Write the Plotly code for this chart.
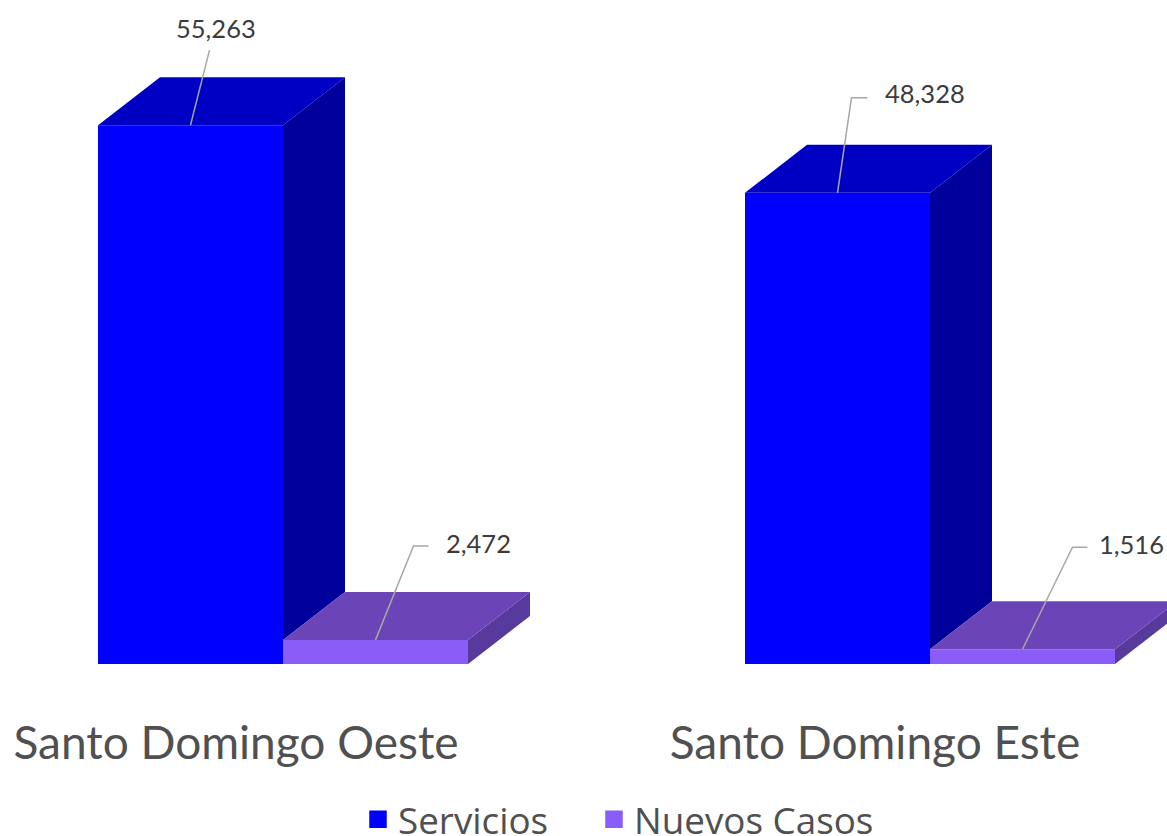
import plotly.graph_objects as go

# --- data ---
categories = ["Santo Domingo Oeste", "Santo Domingo Este"]
series_names = ["Servicios", "Nuevos Casos"]
servicios = [55263, 48328]
nuevos_casos = [2472, 1516]

# --- layout constants (pixels) ---
W, H = 1167, 836
BASE_PX = 664
LEFT_PX = 98
STEP_PX = 647
BAR_PX = 185
DX_PX, DY_PX = 62, 48
PX_PER_VAL = 0.00975

FRONT = ["#0000FF", "#8A5CF8"]
TOP = ["#0000C4", "#6B45B8"]
SIDE = ["#00009A", "#58399E"]

ux = lambda px: px / STEP_PX
uy = lambda px: px / PX_PER_VAL
bw, dx, dy = ux(BAR_PX), ux(DX_PX), uy(DY_PX)

fig = go.Figure()

all_vals = [servicios, nuevos_casos]
for s, vals in enumerate(all_vals):
    fig.add_trace(go.Bar(
        x=list(range(len(vals))), y=vals, name=series_names[s], showlegend=False,
        width=bw, offset=s * bw, marker=dict(color=FRONT[s], line_width=0),
        hoverinfo="skip"))

def poly(xs, ys, color):
    fig.add_trace(go.Scatter(x=xs, y=ys, mode="lines", fill="toself", fillcolor=color,
                             line=dict(width=0, color=color), showlegend=False, hoverinfo="skip"))

for s, vals in enumerate(all_vals):
    for i, v in enumerate(vals):
        x0 = i + s * bw
        x1 = x0 + bw
        # the neighbouring box hides the lower part of a side face
        floor = all_vals[s + 1][i] if s + 1 < len(all_vals) else 0
        poly([x1, x1 + dx, x1 + dx, x1, x1], [floor, floor + dy, v + dy, v, floor], SIDE[s])
        poly([x0, x0 + dx, x1 + dx, x1, x0], [v, v + dy, v + dy, v, v], TOP[s])

# one legend per series so that each entry can sit at its own place
legend_keys = ["legend", "legend2"]
for s, name in enumerate(series_names):
    fig.add_trace(go.Scatter(
        x=[None], y=[None], mode="markers", name=name, legend=legend_keys[s],
        marker=dict(symbol="square", size=16, color=FRONT[s], line=dict(width=1.5, color=FRONT[s]))))

# leader lines and value labels: pixel offsets from the centre of the bar's front-top edge
leaders = {
    (0, 0): dict(elbow=(19, -75), tail=0, label=(25, -97), anchor="center"),
    (1, 0): dict(elbow=(38, -94), tail=15, label=(68, -97), anchor="left"),
    (0, 1): dict(elbow=(14, -95), tail=16, label=(45, -100), anchor="left"),
    (1, 1): dict(elbow=(50, -102), tail=15, label=(74, -105), anchor="left"),
}
annotations = []
for (s, i), c in leaders.items():
    v = all_vals[s][i]
    xc = i + s * bw + bw / 2
    ex = xc + ux(c["elbow"][0])
    ey = v - uy(c["elbow"][1])
    fig.add_trace(go.Scatter(
        x=[xc, ex, ex + ux(c["tail"])], y=[v, ey, ey], mode="lines",
        line=dict(color="#A8A8A0", width=1.5), showlegend=False, hoverinfo="skip"))
    annotations.append(dict(
        x=xc + ux(c["label"][0]), y=v - uy(c["label"][1]), xref="x", yref="y",
        text=f"{v:,}", showarrow=False, xanchor=c["anchor"], yanchor="middle",
        font=dict(family="Lato", size=25.5, color="#3C3C3C")))

legend_style = dict(xanchor="left", y=-0.188, yanchor="top",
                    font=dict(family="Open Sans", size=36.8, color="#505050"),
                    bgcolor="rgba(0,0,0,0)", itemclick=False, itemdoubleclick=False)

# category labels sit left of the group centre in the reference
label_px = [236, 875]
fig.update_layout(
    width=W, height=H, autosize=False,
    margin=dict(l=0, r=0, t=0, b=H - BASE_PX, pad=0, autoexpand=False),
    paper_bgcolor="white", plot_bgcolor="rgba(0,0,0,0)",
    barmode="overlay", annotations=annotations,
    xaxis=dict(range=[ux(-LEFT_PX), ux(W - LEFT_PX)], tickmode="array",
               tickvals=[ux(p - LEFT_PX) for p in label_px], ticktext=categories,
               tickfont=dict(family="Lato", size=46, color="#505050"),
               showgrid=False, zeroline=False, showline=False, ticks="",
               ticklabelstandoff=48),
    yaxis=dict(range=[0, uy(BASE_PX)], visible=False),
    legend=dict(x=358 / W, **legend_style),
    legend2=dict(x=594 / W, **legend_style),
)

fig.write_html("out.html", config=dict(displayModeBar=False),
               post_script="document.body.style.margin='0';document.body.style.overflow='hidden';")
